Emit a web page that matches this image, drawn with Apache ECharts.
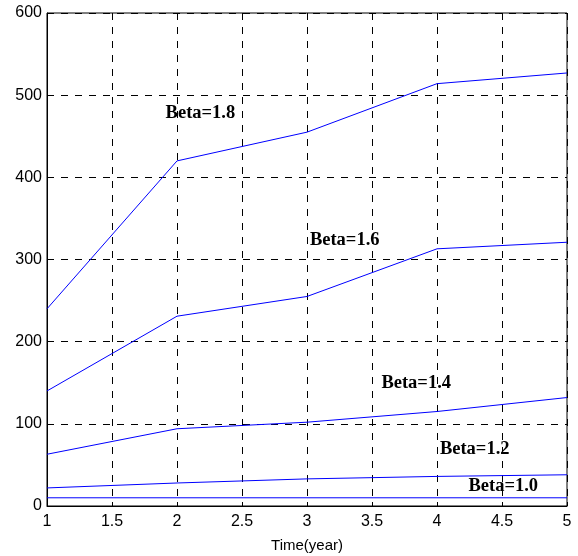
<!DOCTYPE html>
<html>
<head>
<meta charset="utf-8">
<script src="https://cdn.jsdelivr.net/npm/echarts@6/dist/echarts.min.js"></script>
<style>
	html, body { margin: 0; padding: 0; background: #fff; }
	#main { width: 578px; height: 556px; }
</style>
</head>
<body>
<div id="main"></div>
<script>
// years on the x axis
var anos = [1, 2, 3, 4, 5];

// one curve per beta value
var beta18 = [240, 420, 455, 514, 527];
var beta16 = [140, 231, 255, 313, 321];
var beta14 = [63, 94, 102, 115, 132];
var beta12 = [22, 28, 33, 36, 38];
var beta10 = [10, 10, 10, 10, 10];

// curve labels, in data units [x, y]
var nomesBeta = ['Beta=1.8', 'Beta=1.6', 'Beta=1.4', 'Beta=1.2', 'Beta=1.0'];
var posicaoNomes = [[2.18, 478], [3.29, 323], [3.84, 150], [4.29, 69], [4.51, 24]];

function montarSerie(valores, indice) {
	return {
		name: nomesBeta[indice],
		type: 'line',
		data: anos.map(function(a, i) { return [a, valores[i]]; }),
		symbol: 'none',
		silent: true,
		lineStyle: { color: '#0000ff', width: 1 },
		markPoint: {
			symbol: 'circle',
			symbolSize: 0,
			silent: true,
			label: {
				show: true,
				position: 'inside',
				formatter: nomesBeta[indice],
				color: '#000',
				fontFamily: 'Liberation Serif',
				fontWeight: 'bold',
				fontSize: 18.5
			},
			data: [{ coord: posicaoNomes[indice] }]
		}
	};
}

var myChart = echarts.init(document.getElementById('main'));
var option = {
	animation: false,
	backgroundColor: '#fff',
	grid: {
		left: 47, right: 11, top: 13, bottom: 50,
		outerBoundsMode: 'none',
		containLabel: false,
		show: true, borderColor: '#000', borderWidth: 1
	},
	xAxis: {
		type: 'value',
		min: 1, max: 5, interval: 0.5,
		name: 'Time(year)',
		nameLocation: 'middle',
		nameGap: 32,
		nameTextStyle: { color: '#000', fontFamily: 'Liberation Sans', fontSize: 15 },
		axisLine: { show: true, lineStyle: { color: '#000', width: 1 } },
		axisTick: { show: true, inside: true, length: 4, lineStyle: { color: '#000' } },
		axisLabel: { color: '#000', fontFamily: 'Liberation Sans', fontSize: 16, margin: 8 },
		splitLine: { show: true, lineStyle: { color: '#000', type: [7, 7], width: 1 } }
	},
	yAxis: {
		type: 'value',
		min: 0, max: 600, interval: 100,
		axisLine: { show: true, lineStyle: { color: '#000', width: 1 } },
		axisTick: { show: true, inside: true, length: 4, lineStyle: { color: '#000' } },
		axisLabel: { color: '#000', fontFamily: 'Liberation Sans', fontSize: 16, margin: 5 },
		splitLine: { show: true, lineStyle: { color: '#000', type: [7, 7], width: 1 } }
	},
	series: [
		montarSerie(beta18, 0),
		montarSerie(beta16, 1),
		montarSerie(beta14, 2),
		montarSerie(beta12, 3),
		montarSerie(beta10, 4)
	]
};
myChart.setOption(option);
</script>
</body>
</html>
